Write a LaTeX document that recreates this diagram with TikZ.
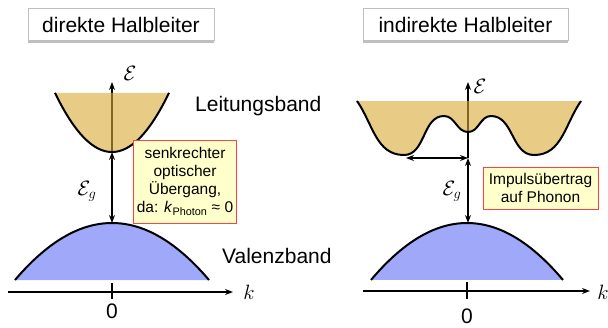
\documentclass[tikz,border=0pt]{standalone}
\usepackage{fontspec}
\setmainfont{Liberation Sans}
\usepackage{amsmath}
\usepackage{xcolor}
\usepackage{tikz}
\usetikzlibrary{arrows.meta, shadows}

\definecolor{cbtan}{RGB}{217,170,52}
\definecolor{vbblue}{RGB}{160,168,250}
\definecolor{notefill}{RGB}{255,255,204}
\definecolor{notered}{RGB}{255,64,64}

\begin{document}
\begin{tikzpicture}[x=1pt, y=1pt,
    band/.style={line width=2pt, line join=round},
    cband/.style={band, fill=cbtan, fill opacity=0.6},
    vband/.style={band, fill=vbblue},
    axisline/.style={line width=1.1pt, -{Stealth[length=8pt, width=6pt]}},
    gaparrow/.style={line width=1.1pt, {Stealth[length=8pt, width=6pt]}-{Stealth[length=8pt, width=6pt]}},
    titlebox/.style={draw=gray!50, line width=1pt, fill=white, minimum height=32pt,
        font=\fontsize{21}{25}\selectfont,
        drop shadow={shadow xshift=0pt, shadow yshift=-2.5pt, fill=black, opacity=0.25}},
    notebox/.style={draw=notered, fill=notefill, line width=0.8pt, align=center,
        font=\fontsize{15.5}{18}\selectfont, inner sep=3pt},
    bandname/.style={font=\fontsize{21}{25}\selectfont, inner sep=0pt},
    mathlabel/.style={font=\fontsize{20}{24}\selectfont, inner sep=0pt}]
    \useasboundingbox (0,0) rectangle (608,-327);

    % Left: direct semiconductor
    \node[titlebox, minimum width=186pt] (titleL) at (121,-24.5) {direkte Halbleiter};
    \coordinate (cbL) at (112,-152);
    \coordinate (vbL) at (112,-223);
    \coordinate (EtopL) at (112,-82);
    \coordinate (kstartL) at (8,-292);
    \coordinate (kendL) at (233,-292);

    % Bands and axes
    \draw[axisline] (cbL) -- (EtopL);
    \draw[cband] plot[domain=-57:57, samples=60] ({112+\x},{-152+0.0182*\x*\x});
    \draw[vband] plot[domain=-97:97, samples=60] ({112+\x},{-223-0.00606*\x*\x});
    \draw[gaparrow] (cbL) -- (vbL);
    \draw[axisline] (kstartL) -- (kendL);
    \draw[line width=1.1pt] (112,-283) -- (112,-299);

    % Labels
    \node[mathlabel] (EL) at (130,-73.5) {$\mathcal{E}$};
    \node[mathlabel] (EgL) at (87,-191) {$\mathcal{E}_g$};
    \node[mathlabel] (kL) at (249,-292) {$k$};
    \node[bandname, anchor=base] (zeroL) at (112,-318) {0};
    \node[bandname, anchor=base west] (cbname) at (195,-111.5) {Leitungsband};
    \node[bandname, anchor=base west] (vbname) at (222,-263) {Valenzband};
    \node[notebox, minimum width=100pt, minimum height=83pt] (noteL) at (185,-181.5)
        {senkrechter\\optischer\\Übergang,\\da: \textit{k}\textsubscript{Photon} ≈ 0};

    % Right: indirect semiconductor
    \node[titlebox, minimum width=205pt] (titleR) at (465.5,-24.5) {indirekte Halbleiter};
    \coordinate (cbR) at (468,-158);
    \coordinate (vbR) at (468,-223);
    \coordinate (EtopR) at (468,-82);
    \coordinate (cbminR) at (406,-158);
    \coordinate (kstartR) at (363,-291);
    \coordinate (kendR) at (590,-291);

    % Bands and axes
    \draw[axisline] (cbR) -- (EtopR);
    \draw[cband] (357,-101) to[out=-55, in=180] (404,-155) to[out=0, in=180] (444,-116)
        to[out=0, in=180] (468,-132) to[out=0, in=180] (491,-116)
        to[out=0, in=180] (534,-155) to[out=0, in=-125] (581,-101);
    \draw[vband] plot[domain=-96:96, samples=60] ({467+\x},{-223-0.00618*\x*\x});
    \draw[gaparrow] (cbminR) -- (cbR);
    \draw[gaparrow] (cbR) -- (vbR);
    \draw[axisline] (kstartR) -- (kendR);
    \draw[line width=1.1pt] (467,-282) -- (467,-299);

    % Labels
    \node[mathlabel] (ER) at (480,-86) {$\mathcal{E}$};
    \node[mathlabel] (EgR) at (452,-191) {$\mathcal{E}_g$};
    \node[mathlabel] (kR) at (603,-292) {$k$};
    \node[bandname, anchor=base] (zeroR) at (467,-323) {0};
    \node[notebox, minimum width=115pt, minimum height=42pt] (noteR) at (540.5,-188)
        {Impulsübertrag\\auf Phonon};

    \end{tikzpicture}
\end{document}
